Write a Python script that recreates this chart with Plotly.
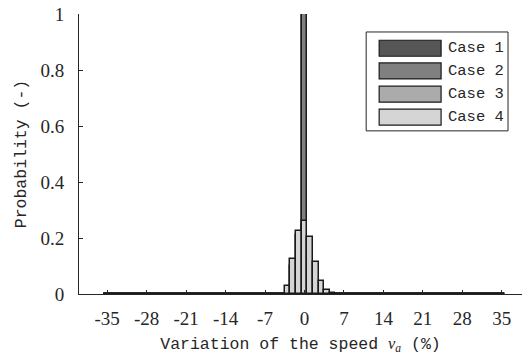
import plotly.graph_objects as go

# Histogram bins: variation of the speed v_a (%), one bin per integer percent
bin_centers = list(range(-35, 36))

# Probability per bin for each case (only non-zero bins listed)
case1_nonzero = {0: 1.0}
case2_nonzero = {0: 1.0}
case3_nonzero = {-2: 0.10, -1: 0.21, 0: 0.25, 1: 0.20, 2: 0.10, 3: 0.03}
case4_nonzero = {-3: 0.027, -2: 0.125, -1: 0.225, 0: 0.259, 1: 0.205,
                 2: 0.116, 3: 0.047, 4: 0.015, 5: 0.005}

case_names = ["Case 1", "Case 2", "Case 3", "Case 4"]
case_values = [case1_nonzero, case2_nonzero, case3_nonzero, case4_nonzero]
case_colors = ["#565656", "#808080", "#ababab", "#d5d5d5"]

x_ticks = [-35, -28, -21, -14, -7, 0, 7, 14, 21, 28, 35]
y_ticks = [0, 0.2, 0.4, 0.6, 0.8, 1]

W, H = 522, 354
L, R, T, B = 78.5, 0, 14, 59.7

MONO = "Liberation Mono, Courier New, monospace"
SERIF = "Liberation Serif, Times New Roman, serif"
INK = "#262626"

fig = go.Figure()
for name, vals, color in zip(case_names, case_values, case_colors):
    fig.add_trace(go.Bar(
        x=bin_centers,
        y=[vals.get(c, 0.0) for c in bin_centers],
        width=1.0,
        name=name,
        marker=dict(color=color, line=dict(color="#1a1a1a", width=1.5)),
        showlegend=False,
    ))

# Hand-drawn legend box with wide colour patches (pixel -> paper helpers)
pw, ph = W - L - R, H - T - B
px = lambda v: (v - L) / pw
py = lambda v: 1 - (v - T) / ph

shapes = [dict(type="rect", xref="paper", yref="paper",
               x0=px(366), x1=px(508), y0=py(131), y1=py(32),
               line=dict(color=INK, width=1), fillcolor="white", layer="above")]
annotations = []
row_centers = [48.3, 71.0, 94.3, 117.3]
for name, color, yc in zip(case_names, case_colors, row_centers):
    shapes.append(dict(type="rect", xref="paper", yref="paper",
                       x0=px(379), x1=px(441), y0=py(yc + 8), y1=py(yc - 8),
                       line=dict(color="#1a1a1a", width=1.2), fillcolor=color,
                       layer="above"))
    annotations.append(dict(xref="paper", yref="paper", x=px(446), y=py(yc),
                            text=name, showarrow=False, xanchor="left",
                            yanchor="middle",
                            font=dict(family=MONO, size=15.5, color=INK)))

fig.update_layout(
    width=W, height=H,
    margin=dict(l=L, r=R, t=T, b=B, autoexpand=False),
    paper_bgcolor="white", plot_bgcolor="white",
    barmode="overlay",
    bargap=0,
    shapes=shapes,
    annotations=annotations,
    xaxis=dict(
        range=[-40, -40 + pw / 5.643],
        tickmode="array", tickvals=x_ticks, ticktext=[str(t) for t in x_ticks],
        ticks="inside", ticklen=4, tickcolor=INK, tickwidth=1,
        showline=True, linecolor=INK, linewidth=1,
        showgrid=False, zeroline=False,
        tickfont=dict(family=SERIF, size=19, color=INK),
        ticklabelstandoff=7,
        title=dict(text="Variation of the speed <span style='font-family:Liberation Serif'><i>v</i><sub><i>a</i></sub></span> (%)",
                   font=dict(family=MONO, size=16.5, color=INK), standoff=9),
    ),
    yaxis=dict(
        range=[0, 1],
        tickmode="array", tickvals=y_ticks, ticktext=["0", "0.2", "0.4", "0.6", "0.8", "1"],
        ticks="inside", ticklen=4, tickcolor=INK, tickwidth=1,
        showline=True, linecolor=INK, linewidth=1,
        showgrid=False, zeroline=False,
        tickfont=dict(family=SERIF, size=19, color=INK),
        ticklabelstandoff=10,
        title=dict(text="Probability (-)",
                   font=dict(family=MONO, size=16.5, color=INK), standoff=9),
    ),
)

fig.write_html("out.html")
